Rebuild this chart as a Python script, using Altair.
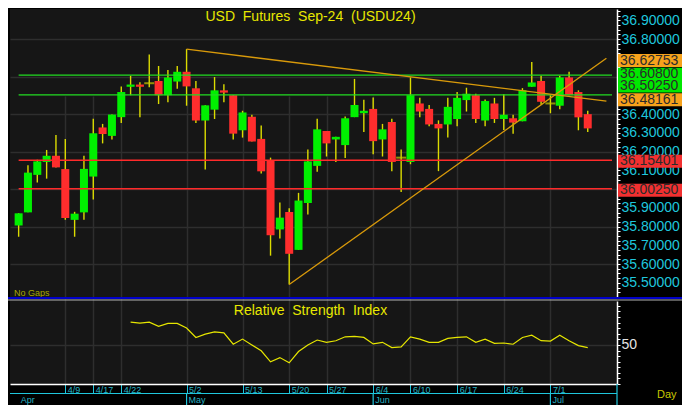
import altair as alt
import pandas as pd
import numpy as np

# ---------------- data ----------------
opens = [35.806, 35.876, 36.076, 36.145, 36.178, 36.107, 35.836, 35.876, 36.067, 36.329,
         36.284, 36.384, 36.546, 36.558, 36.565, 36.577, 36.501, 36.574, 36.626, 36.538,
         36.366, 36.424, 36.527, 36.501, 36.314, 36.386, 36.268, 36.154, 35.785, 35.878,
         35.676, 35.926, 36.124, 36.310, 36.265, 36.235, 36.384, 36.405, 36.428, 36.265,
         36.358, 36.168, 36.145, 36.457, 36.428, 36.348, 36.345, 36.374, 36.475, 36.501,
         36.366, 36.457, 36.374, 36.378, 36.362, 36.546, 36.577, 36.457, 36.445, 36.596,
         36.518, 36.400]
closes = [35.871, 36.088, 36.148, 36.178, 36.116, 35.846, 35.869, 36.108, 36.298, 36.294,
          36.398, 36.518, 36.558, 36.546, 36.565, 36.501, 36.596, 36.626, 36.548, 36.366,
          36.447, 36.527, 36.515, 36.296, 36.409, 36.254, 36.095, 35.754, 35.848, 35.655,
          35.939, 36.148, 36.319, 36.244, 36.279, 36.378, 36.449, 36.418, 36.256, 36.319,
          36.145, 36.168, 36.501, 36.414, 36.345, 36.324, 36.439, 36.487, 36.509, 36.374,
          36.470, 36.374, 36.397, 36.355, 36.527, 36.569, 36.466, 36.457, 36.596, 36.501,
          36.383, 36.324]
highs = [35.871, 36.128, 36.157, 36.209, 36.289, 36.268, 35.879, 36.178, 36.376, 36.348,
         36.398, 36.548, 36.605, 36.570, 36.718, 36.657, 36.636, 36.657, 36.747, 36.577,
         36.447, 36.598, 36.560, 36.501, 36.418, 36.397, 36.340, 36.168, 35.928, 35.898,
         35.980, 36.211, 36.376, 36.310, 36.279, 36.388, 36.588, 36.477, 36.489, 36.348,
         36.376, 36.211, 36.596, 36.487, 36.449, 36.367, 36.487, 36.518, 36.541, 36.509,
         36.478, 36.487, 36.506, 36.397, 36.539, 36.678, 36.605, 36.501, 36.605, 36.626,
         36.527, 36.418]
lows = [35.746, 35.876, 36.035, 36.056, 36.116, 35.837, 35.746, 35.836, 35.945, 36.244,
        36.265, 36.353, 36.501, 36.383, 36.544, 36.454, 36.463, 36.535, 36.445, 36.353,
        36.105, 36.374, 36.463, 36.265, 36.275, 36.254, 36.084, 35.645, 35.737, 35.491,
        35.676, 35.864, 36.093, 36.174, 36.145, 36.166, 36.384, 36.305, 36.186, 36.174,
        36.096, 35.985, 36.133, 36.384, 36.336, 36.096, 36.275, 36.336, 36.414, 36.353,
        36.336, 36.353, 36.315, 36.296, 36.362, 36.546, 36.452, 36.405, 36.426, 36.501,
        36.314, 36.305]

rsi_start = 12
rsi_vals = [79.1, 77.9, 79.1, 73.8, 77.5, 77.5, 71.6, 59.6, 63.8, 66.6,
            65.4, 50.9, 57.5, 50.0, 42.5, 28.4, 33.8, 27.1, 41.6, 50.0,
            56.3, 53.4, 55.4, 60.4, 60.9, 59.6, 51.3, 53.4, 46.6, 47.5,
            60.4, 57.5, 53.4, 53.4, 58.4, 59.6, 60.4, 53.4, 57.5, 52.1,
            52.5, 50.9, 59.6, 62.5, 55.4, 55.0, 62.5, 55.4, 49.1, 46.6]

tick_idx = [5, 8, 11, 18, 24, 29, 33, 38, 42, 47, 52, 57]
tick_lbl = ['4/9', '4/17', '4/22', '5/2', '5/13', '5/20', '5/27', '6/4', '6/10', '6/17', '6/24', '7/1']
month_idx = [0, 18, 38, 57]
month_lbl = ['Apr', 'May', 'Jun', 'Jul']

level_green = [36.608, 36.5025]
level_red = [36.15401, 36.0025]

trend_name = ['a', 'a', 'b', 'b']
trend_idx = [18, 63, 29, 63]
trend_px = [36.747, 36.4693, 35.491, 36.6986]

box_vals = [36.62753, 36.60800, 36.50250, 36.48161, 36.15401, 36.00250]
box_kind = ['trend', 'level', 'level', 'trend', 'support', 'support']

# price labels left visible beside the value boxes
price_labels = [35.5, 35.6, 35.7, 35.8, 35.9, 36.1, 36.2, 36.3, 36.4, 36.8, 36.9]

title_txt = "USD\u00a0 Futures\u00a0 Sep-24\u00a0 (USDU24)"
rsi_title = "Relative\u00a0 Strength\u00a0 Index"

# ---------------- layout / style ----------------
W, H = 607, 375
MAIN_H = 288
RSI_TOP = 292
XDOM = [-0.39, 63.6]
PDOM = [35.4245, 36.961]
RDOM = [0, 106.25]
FONT = "Liberation Sans"
GRID = "#2e2e2e"
CYAN = "#1fc6dc"
CYAN_T = "#27b3c4"
UP, DN = "#00f000", "#ff2d2d"
WICK = "#dcdc00"
box_color = {'trend': '#f7a21b', 'level': '#00e800', 'support': '#f23030'}
box_shift = [-11, -1, -9, 1, 1, 1.5]

cdf = pd.DataFrame({'i': list(range(len(opens))), 'o': opens, 'h': highs, 'l': lows, 'c': closes})
cdf['d'] = np.where(cdf.c > cdf.o, 'up', np.where(cdf.c < cdf.o, 'down', 'doji'))

xscale = alt.Scale(domain=XDOM, nice=False, zero=False)
lbl_expr = "[" + ",".join(f"'{s}'" for s in tick_lbl) + "][indexof([" + ",".join(str(v) for v in tick_idx) + "], datum.value)]"
xaxis = alt.Axis(values=tick_idx, labelExpr=lbl_expr, grid=True, gridColor=GRID, gridWidth=1.5,
                 tickColor=CYAN, tickSize=9, tickWidth=1, labelColor=CYAN_T, labelFontSize=9,
                 labelFont=FONT, labelAlign='left', labelBaseline='top', labelPadding=-8,
                 labelOffset=2, labelFlush=False, labelOverlap=False, domainColor='#ffffff',
                 domainWidth=1.5, title=None, orient='bottom', zindex=0)


def X(f):
    return alt.X(f'{f}:Q', scale=xscale, axis=xaxis)


pminor = [round(v, 3) for v in np.arange(35.425, 36.951, 0.025)]
pscale = alt.Scale(domain=PDOM, range=[MAIN_H, 0], nice=False, zero=False)
paxis = alt.Axis(orient='right', values=pminor,
                 labelExpr="indexof([" + ",".join(str(v) for v in price_labels) + "], round(datum.value*1000)/1000) >= 0 ? format(datum.value, '.5f') : ''",
                 labelColor=CYAN, labelFontSize=14, labelFont=FONT, labelPadding=1,
                 tickColor='#ffffff', tickSize=3, domainColor='#ffffff', domainWidth=1.5,
                 grid=True, gridColor=GRID, gridWidth=1.5,
                 gridOpacity={"condition": {"test": "abs(datum.value*5 - round(datum.value*5)) < 0.01", "value": 1}, "value": 0},
                 title=None, labelOverlap=False, zindex=0)


def Y(f):
    return alt.Y(f'{f}:Q', scale=pscale, axis=paxis)


rminor = [round(50 / 7 * k, 4) for k in range(0, 15)]
rscale = alt.Scale(domain=RDOM, range=[H, RSI_TOP], nice=False, zero=False)
raxis = alt.Axis(orient='right', values=rminor,
                 labelExpr="abs(datum.value-50) < 0.01 ? '50' : ''",
                 labelColor='#e4e4e4', labelFontSize=14, labelFont=FONT, labelPadding=1,
                 tickColor='#ffffff', tickSize=3, domainColor='#ffffff', domainWidth=1.5,
                 grid=True, gridColor=GRID, gridWidth=1.5,
                 gridOpacity={"condition": {"test": "abs(datum.value-50) < 0.01", "value": 1}, "value": 0},
                 title=None, labelOverlap=False, zindex=0)

# ---------------- main price panel ----------------
wick = alt.Chart(cdf).mark_rule(color=WICK, strokeWidth=1.4).encode(x=X('i'), y=Y('l'), y2='h:Q')
body = alt.Chart(cdf).transform_filter("datum.o != datum.c").mark_bar(size=8).encode(
    x=X('i'), y=Y('o'), y2='c:Q',
    color=alt.Color('d:N', scale=alt.Scale(domain=['up', 'down'], range=[UP, DN]), legend=None))
doji = alt.Chart(cdf).transform_filter("datum.o == datum.c").mark_tick(
    orient='horizontal', size=10, thickness=2, color='#c8c800').encode(x=X('i'), y=Y('o'))

gdf = pd.DataFrame({'v': level_green})
rdf = pd.DataFrame({'v': level_red})
lev_g = alt.Chart(gdf).mark_rule(color='#22dd22', strokeWidth=1.3).encode(
    x=alt.datum(0), x2=alt.datum(XDOM[1]), y=Y('v'))
lev_r = alt.Chart(rdf).mark_rule(color='#ff2a2a', strokeWidth=1.5).encode(
    x=alt.datum(0), x2=alt.datum(XDOM[1]), y=Y('v'))

tdf = pd.DataFrame({'line': trend_name, 'idx': trend_idx, 'p': trend_px})
trend = alt.Chart(tdf).mark_line(color='#d99a0a', strokeWidth=1.3).encode(
    x=X('idx'), y=Y('p'), detail='line:N')

box_layers = []
for v, k, s in zip(box_vals, box_kind, box_shift):
    bdf = pd.DataFrame({'v': [v], 't': [f"{v:.5f}"]})
    box_layers.append(alt.Chart(bdf).mark_rect(color=box_color[k], yOffset=s - 6.5, y2Offset=s + 6.5).encode(
        y=Y('v'), y2='v:Q', x=alt.value(W + 1), x2=alt.value(W + 65)))
    box_layers.append(alt.Chart(bdf).mark_text(align='left', baseline='middle', dy=s, fontSize=14,
                                                font=FONT, color='#2b2b2b').encode(
        y=Y('v'), x=alt.value(W + 3), text='t:N'))

main_grp = alt.layer(wick, body, doji, lev_g, lev_r, trend, *box_layers)

# ---------------- RSI panel ----------------
rsi_df = pd.DataFrame({'i': list(range(rsi_start, rsi_start + len(rsi_vals))), 'r': rsi_vals})
rsi_line = alt.Chart(rsi_df).mark_line(color='#e6e600', strokeWidth=1.2).encode(
    x=X('i'), y=alt.Y('r:Q', scale=rscale, axis=raxis))
rsi_grp = alt.layer(rsi_line)

# ---------------- annotations ----------------
one = pd.DataFrame({'a': [0]})
title = alt.Chart(one).mark_text(text=title_txt, fontSize=14, font=FONT, color='#e8e800',
                                 align='center', baseline='middle').encode(
    x=alt.value(300.5), y=alt.value(7.5))
nogaps = alt.Chart(one).mark_text(text="No Gaps", fontSize=9, font=FONT, color='#a8a800',
                                  align='left', baseline='middle').encode(
    x=alt.value(4), y=alt.value(284))
rtitle = alt.Chart(one).mark_text(text=rsi_title, fontSize=14, font=FONT, color='#e8e800',
                                  align='center', baseline='middle').encode(
    x=alt.value(300.5), y=alt.value(302))
day = alt.Chart(one).mark_text(text="Day", fontSize=11, font=FONT, color='#c8c800',
                               align='left', baseline='middle').encode(
    x=alt.value(W + 40), y=alt.value(H + 11))
sep_blue = alt.Chart(one).mark_rule(color='#0000c8', strokeWidth=2).encode(
    x=alt.value(-2), x2=alt.value(W + 65), y=alt.value(MAIN_H + 1))
sep_gray = alt.Chart(one).mark_rule(color='#b4b4b4', strokeWidth=1).encode(
    x=alt.value(-2), x2=alt.value(W + 65), y=alt.value(MAIN_H + 3))
cyan_h = alt.Chart(one).mark_rule(color=CYAN, strokeWidth=1.2).encode(
    x=alt.value(0), x2=alt.value(W), y=alt.value(H + 9.5))
cyan_v = alt.Chart(one).mark_rule(color=CYAN, strokeWidth=1.2).encode(
    x=alt.value(W), y=alt.value(H), y2=alt.value(H + 22))

mdf = pd.DataFrame({'mi': month_idx, 'm': month_lbl})
m_ticks = alt.Chart(mdf).transform_filter("datum.mi > 0").mark_rule(color=CYAN, strokeWidth=1.2).encode(
    x=X('mi'), y=alt.value(H + 9.5), y2=alt.value(H + 21))
m_text = alt.Chart(mdf).mark_text(align='left', baseline='middle', dx=2, fontSize=9, font=FONT,
                                  color=CYAN_T).encode(
    x=X('mi'), y=alt.value(H + 15.5), text='m:N')

chart = alt.layer(
    main_grp, rsi_grp, title, nogaps, rtitle, day, sep_blue, sep_gray, cyan_h, cyan_v, m_ticks, m_text
).resolve_scale(y='independent').properties(
    width=W, height=H,
    padding={'left': 2, 'top': 1, 'right': 65, 'bottom': 21},
    autosize=alt.AutoSizeParams(type='none'),
    background='#000000'
).configure_view(fill='#161616', stroke=None)

chart.save("out.html", embed_options={"renderer": "svg", "actions": False})
